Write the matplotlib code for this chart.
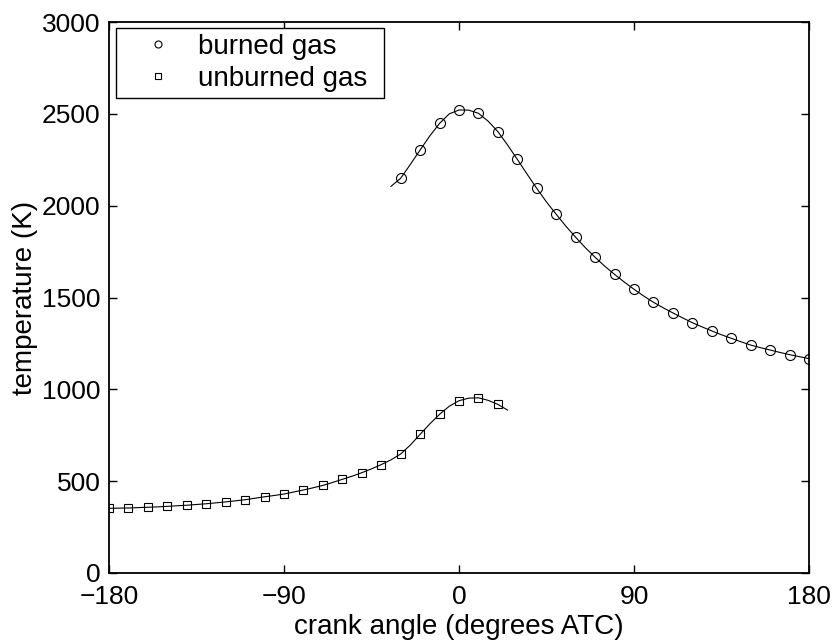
import matplotlib
matplotlib.use("Agg")
import matplotlib.pyplot as plt

plt.rcParams['font.family'] = ['Liberation Sans', 'DejaVu Sans']
plt.rcParams['axes.unicode_minus'] = True

# marker data (every 10 degrees)
burned_angle = [-30, -20, -10, 0, 10, 20, 30, 40, 50, 60, 70, 80, 90, 100, 110,
                120, 130, 140, 150, 160, 170, 180]
burned_temp = [2149, 2303, 2448, 2521, 2503, 2403, 2252, 2094, 1953, 1828, 1719,
               1626, 1545, 1474, 1416, 1363, 1318, 1278, 1241, 1214, 1189, 1167]

unburned_angle = [-180, -170, -160, -150, -140, -130, -120, -110, -100, -90, -80,
                  -70, -60, -50, -40, -30, -20, -10, 0, 10, 20]
unburned_temp = [352, 354, 358, 363, 369, 377, 387, 399, 415, 430, 452,
                 477, 510, 546, 590, 648, 755, 864, 938, 954, 918]

# continuous curves (every 5 degrees)
burned_line_angle = list(range(-35, 181, 5))
burned_line_temp = [2105, 2149, 2225, 2303, 2380, 2448, 2500, 2521, 2520, 2503,
                    2460, 2403, 2330, 2252, 2172, 2094, 2020, 1953, 1888, 1828,
                    1771, 1719, 1670, 1626, 1584, 1545, 1508, 1474, 1444, 1416,
                    1389, 1363, 1340, 1318, 1297, 1278, 1259, 1241, 1227, 1214,
                    1201, 1189, 1178, 1167]

unburned_line_angle = list(range(-180, 26, 5))
unburned_line_temp = [352, 353, 354, 356, 358, 360, 363, 366, 369, 373, 377, 382,
                      387, 393, 399, 407, 415, 422, 430, 441, 452, 464, 477, 493,
                      510, 527, 546, 567, 590, 616, 648, 697, 755, 812, 864, 908,
                      938, 952, 954, 940, 918, 887]

x_ticks = [-180, -90, 0, 90, 180]
y_ticks = [0, 500, 1000, 1500, 2000, 2500, 3000]

FS = 19
LFS = 20

fig = plt.figure(figsize=(8.36, 6.44), dpi=100)
ax = fig.add_axes([109/836, 1 - 573/644, 700/836, 551/644])

ax.plot(burned_line_angle, burned_line_temp, color='black', lw=0.8)
ax.plot(unburned_line_angle, unburned_line_temp, color='black', lw=0.8)
ax.plot(burned_angle, burned_temp, ls='none', marker='o', ms=7.2,
        mfc='none', mec='black', mew=0.8, label='burned gas')
ax.plot(unburned_angle, unburned_temp, ls='none', marker='s', ms=6.0,
        mfc='none', mec='black', mew=0.8, label='unburned gas')

ax.set_xlim(-180, 180)
ax.set_ylim(0, 3000)
ax.set_xticks(x_ticks)
ax.set_yticks(y_ticks)
ax.tick_params(direction='in', top=True, right=True, length=6, width=1,
               labelsize=FS)
ax.tick_params(axis='x', pad=9)
ax.tick_params(axis='y', pad=6)
for s in ax.spines.values():
    s.set_linewidth(1.3)

ax.set_xlabel('crank angle (degrees ATC)', fontsize=LFS, labelpad=3)
ax.set_ylabel('temperature (K)', fontsize=LFS, labelpad=3)

leg = ax.legend(loc='upper left', bbox_to_anchor=(0.01, 0.989, 0.383, 0.0),
                mode='expand', fontsize=LFS, frameon=True, fancybox=False,
                markerscale=0.7, borderpad=0.22, handlelength=2.6,
                handletextpad=0.15, borderaxespad=0.0, labelspacing=0.2,
                edgecolor='black', framealpha=1)
leg.get_frame().set_linewidth(1.0)

fig.savefig('out.png', dpi=100)
